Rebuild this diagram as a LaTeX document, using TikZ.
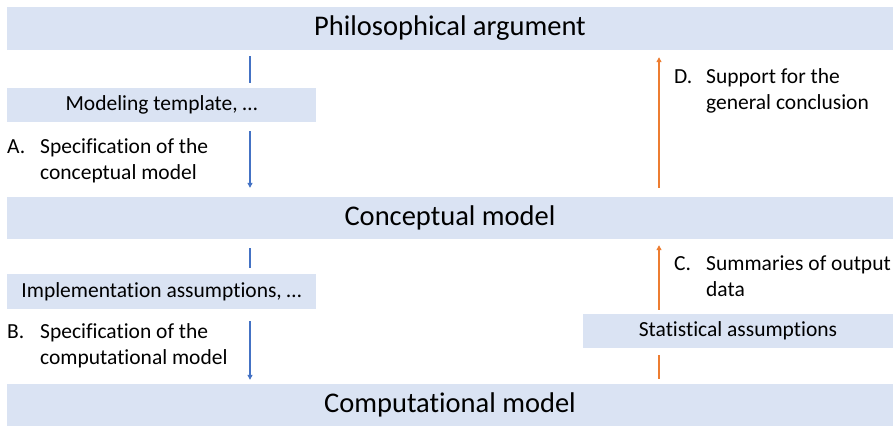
\documentclass[tikz,border=0pt]{standalone}
\usepackage{fontspec}
\setmainfont{Carlito}[Ligatures=NoCommon]
\usetikzlibrary{arrows.meta}
\definecolor{barfill}{HTML}{DAE3F3}
\definecolor{bluearr}{HTML}{4472C4}
\definecolor{orangearr}{HTML}{ED7D31}
\tikzset{
  bar/.style={fill=barfill, draw=none, inner sep=0pt, anchor=center},
  bigtxt/.style={font=\fontsize{28.5}{34}\selectfont},
  smalltxt/.style={font=\fontsize{21.5}{26}\selectfont},
  lbl/.style={smalltxt, inner sep=0pt, anchor=base west, align=left},
  blueln/.style={draw=bluearr, line width=1.1pt},
  orangeln/.style={draw=orangearr, line width=1.1pt},
  tip/.style={-{Triangle[width=5pt,length=5pt]}},
}
\begin{document}
\begin{tikzpicture}[x=1pt,y=-1pt]
\useasboundingbox (0,0) rectangle (896,426);
\fill[white] (0,0) rectangle (896,426);
% bars
\node[bar, bigtxt, minimum width=886pt, minimum height=43pt] (phil) at (450,28.5) {Philosophical argument};
\node[bar, bigtxt, minimum width=886pt, minimum height=42pt] (concept) at (450,218) {Conceptual model};
\node[bar, bigtxt, minimum width=886pt, minimum height=42pt] (comp) at (450,405) {Computational model};
\node[bar, smalltxt, minimum width=309pt, minimum height=34pt] (templ) at (161.5,105) {Modeling template, …};
\node[bar, smalltxt, minimum width=309pt, minimum height=35pt] (impl) at (161.5,291.5) {Implementation assumptions, …};
\node[bar, smalltxt, minimum width=310pt, minimum height=34pt] (stat) at (738,331) {Statistical assumptions};
% x positions of connectors
\coordinate (bx) at (250,0);
\coordinate (ox) at (659,0);
% blue connectors
\draw[blueln, shorten <=6pt, shorten >=5pt] (phil.south -| bx) -- (templ.north -| bx);
\draw[blueln, tip, shorten <=9pt, shorten >=9pt] (templ.south -| bx) -- (concept.north -| bx);
\draw[blueln, shorten <=9pt, shorten >=6pt] (concept.south -| bx) -- (impl.north -| bx);
\draw[blueln, tip, shorten <=12pt, shorten >=4pt] (impl.south -| bx) -- (comp.north -| bx);
% orange connectors
\draw[orangeln, shorten <=5pt, shorten >=7pt] (comp.north -| ox) -- (stat.south -| ox);
\draw[orangeln, tip, shorten <=4pt, shorten >=6pt] (stat.north -| ox) -- (concept.south -| ox);
\draw[orangeln, tip, shorten <=9pt, shorten >=7pt] (concept.north -| ox) -- (phil.south -| ox);
% labels
\node[lbl] (la) at (7,153) {A.};
\node[lbl] (lat) at (40,179) {Specification of the\\conceptual model};
\node[lbl] (lb) at (7,338) {B.};
\node[lbl] (lbt) at (40,364) {Specification of the\\computational model};
\node[lbl] (lc) at (674,270) {C.};
\node[lbl] (lct) at (706,296) {Summaries of output\\data};
\node[lbl] (ld) at (674,83) {D.};
\node[lbl] (ldt) at (706,109) {Support for the\\general conclusion};
\end{tikzpicture}
\end{document}
